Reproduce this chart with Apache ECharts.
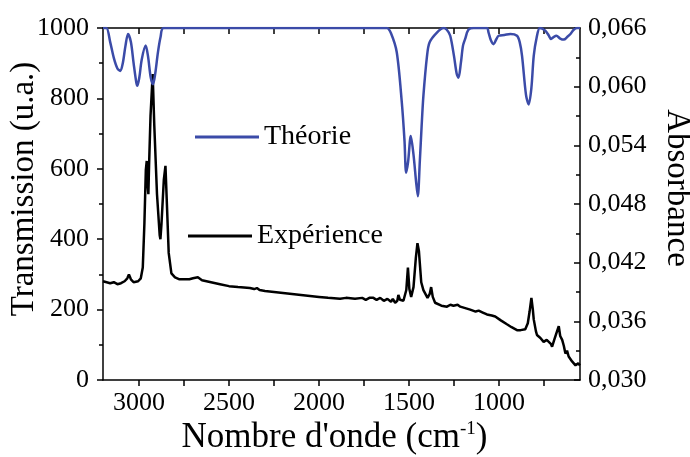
<!DOCTYPE html>
<html>
<head>
<meta charset="utf-8">
<script src="https://cdn.jsdelivr.net/npm/echarts@6/dist/echarts.min.js"></script>
<style>html,body{margin:0;padding:0;background:#fff}#c{width:690px;height:457px}</style>
</head>
<body>
<div id="c"></div>
<script>
// Wavenumber (cm-1) and theoretical transmission (u.a.)
const theoWn = [3200,3181,3160,3140,3120,3104,3090,3075,3061,3045,3030,3015,3009,2998,2985,2963,2950,2935,2922,2910,2895,2880,2863,1640,1623,1600,1568,1540,1525,1516,1505,1490,1475,1460,1451,1440,1430,1420,1400,1386,1345,1308,1290,1271,1250,1235,1225,1212,1200,1188,1170,1141,1067,1058,1045,1030,1015,1002,970,937,900,885,872,850,835,820,807,790,774,760,742,725,711,695,681,660,640,620,603,585,566,550];
const theoT = [1000,1000,960,915,885,878,900,950,983,960,900,845,836,860,910,950,920,860,840,870,930,975,1000,1000,1000,985,931,789,680,589,620,693,640,560,522,620,720,807,920,959,987,1000,995,978,920,870,859,900,950,969,995,1000,1000,987,965,954,968,978,980,983,978,960,921,810,783,830,921,975,1000,998,992,980,969,975,978,970,967,975,983,995,1000,1000];

// Wavenumber (cm-1) and experimental absorbance
const expWn = [3200,3180,3160,3140,3120,3100,3080,3065,3056,3045,3030,3020,3005,2990,2979,2970,2962,2957,2952,2948,2944,2936,2924,2915,2900,2885,2881,2875,2862,2853,2845,2835,2820,2800,2775,2746,2720,2700,2673,2650,2600,2550,2500,2450,2384,2360,2345,2330,2300,2250,2200,2150,2100,2050,2000,1950,1883,1850,1800,1760,1740,1720,1698,1680,1660,1640,1620,1600,1590,1577,1565,1559,1550,1531,1515,1506,1498,1488,1475,1462,1453,1445,1432,1420,1397,1385,1377,1368,1355,1320,1289,1270,1253,1230,1215,1160,1130,1113,1090,1067,1040,1021,990,956,930,900,880,854,840,830,820,812,807,795,789,770,752,735,724,712,705,695,681,668,660,649,640,631,622,613,603,594,585,575,560,550];
const expA = [0.0401,0.0400,0.0399,0.0400,0.0398,0.0399,0.0401,0.0404,0.0408,0.0403,0.0400,0.0399,0.0401,0.0404,0.0415,0.0460,0.0515,0.0524,0.0500,0.0490,0.0520,0.0570,0.0613,0.0560,0.0490,0.0448,0.0444,0.0460,0.0505,0.0519,0.0480,0.0430,0.0409,0.0405,0.0403,0.0403,0.0403,0.0404,0.0405,0.0402,0.0400,0.0398,0.0396,0.0395,0.0394,0.0393,0.0394,0.0392,0.0391,0.0390,0.0389,0.0388,0.0387,0.0386,0.0385,0.0384,0.0383,0.0384,0.0383,0.0384,0.0382,0.0384,0.0384,0.0382,0.0384,0.0381,0.0383,0.0380,0.0383,0.0379,0.0381,0.0387,0.0382,0.0381,0.0392,0.0415,0.0393,0.0385,0.0395,0.0425,0.0440,0.0432,0.0400,0.0392,0.0384,0.0388,0.0395,0.0385,0.0379,0.0376,0.0375,0.0377,0.0376,0.0377,0.0375,0.0372,0.0370,0.0371,0.0369,0.0367,0.0366,0.0365,0.0361,0.0357,0.0354,0.0351,0.0351,0.0352,0.0358,0.0370,0.0384,0.0372,0.0362,0.0350,0.0346,0.0343,0.0339,0.0341,0.0343,0.0337,0.0334,0.0340,0.0348,0.0355,0.0345,0.0341,0.0335,0.0327,0.0330,0.0324,0.0322,0.0319,0.0320,0.0315,0.0317,0.0315];

const xLabels = [3000, 2500, 2000, 1500, 1000];
const xTicks = [3000, 2750, 2500, 2250, 2000, 1750, 1500, 1250, 1000, 750];
const seriesNames = ['Théorie', 'Expérience'];

const FONT = '"Liberation Serif", "Times New Roman", serif';
const zip = (a, b) => a.map((v, i) => [v, b[i]]);

const chart = echarts.init(document.getElementById('c'));
chart.setOption({
  backgroundColor: '#fff',
  animation: false,
  textStyle: { fontFamily: FONT, color: '#000' },
  grid: { left: 103, right: 110, top: 28, bottom: 77, containLabel: false, outerBoundsMode: 'none' },
  legend: [
    { data: [seriesNames[0]], left: 190, top: 118, icon: 'rect', itemWidth: 64, itemHeight: 3,
      textStyle: { fontFamily: FONT, fontSize: 28, color: '#000' } },
    { data: [seriesNames[1]], left: 183, top: 217, icon: 'rect', itemWidth: 64, itemHeight: 3,
      textStyle: { fontFamily: FONT, fontSize: 28, color: '#000' } }
  ],
  xAxis: [
    { type: 'value', inverse: true, min: 550, max: 3200, position: 'bottom',
      name: "Nombre d'onde (cm{sup|-1})", nameLocation: 'middle', nameGap: 40, nameMoveOverlap: false,
      nameTextStyle: { fontFamily: FONT, fontSize: 35, color: '#000', padding: [0, 14, 0, 0],
        rich: { sup: { fontFamily: FONT, fontSize: 19, verticalAlign: 'top', color: '#000' } } },
      axisLine: { lineStyle: { color: '#000', width: 1.5 } },
      axisTick: { inside: false, length: 6, customValues: xTicks, lineStyle: { color: '#000', width: 1.5 } },
      axisLabel: { customValues: xLabels, margin: 10, fontFamily: FONT, fontSize: 26, color: '#000',
        formatter: v => String(v) },
      splitLine: { show: false } },
    { type: 'value', inverse: true, min: 550, max: 3200, position: 'top',
      axisLine: { lineStyle: { color: '#000', width: 1.5 } },
      axisTick: { inside: true, length: 6, customValues: xTicks, lineStyle: { color: '#000', width: 1.5 } },
      axisLabel: { show: false }, splitLine: { show: false } }
  ],
  yAxis: [
    { type: 'value', min: 0, max: 1000, interval: 200, position: 'left',
      name: 'Transmission (u.a.)', nameLocation: 'middle', nameGap: 62, nameMoveOverlap: false,
      nameTextStyle: { fontFamily: FONT, fontSize: 33, color: '#000', padding: [0, 0, 0, 30] },
      axisLine: { show: true, lineStyle: { color: '#000', width: 1.5 } },
      axisTick: { show: true, inside: false, length: 6, lineStyle: { color: '#000', width: 1.5 } },
      minorTick: { show: true, splitNumber: 2, length: 4, lineStyle: { color: '#000', width: 1.5 } },
      axisLabel: { margin: 14, fontFamily: FONT, fontSize: 26, color: '#000', formatter: v => String(v) },
      splitLine: { show: false } },
    { type: 'value', min: 0.030, max: 0.066, interval: 0.006, position: 'right',
      name: 'Absorbance', nameLocation: 'middle', nameGap: 80, nameRotate: -90, nameMoveOverlap: false,
      nameTextStyle: { fontFamily: FONT, fontSize: 33, color: '#000', padding: [0, 32, 0, 0] },
      axisLine: { show: true, lineStyle: { color: '#000', width: 1.5 } },
      axisTick: { show: true, inside: true, length: 6, lineStyle: { color: '#000', width: 1.5 } },
      minorTick: { show: true, splitNumber: 2, length: 4, lineStyle: { color: '#000', width: 1.5 } },
      axisLabel: { margin: 8, fontFamily: FONT, fontSize: 26, color: '#000',
        formatter: v => v.toFixed(3).replace('.', ',') },
      splitLine: { show: false } }
  ],
  series: [
    { name: seriesNames[0], type: 'line', xAxisIndex: 0, yAxisIndex: 0, data: zip(theoWn, theoT),
      showSymbol: false, smooth: 0.3, color: '#3b4ba8', lineStyle: { width: 2.5, color: '#3b4ba8' }, z: 3 },
    { name: seriesNames[1], type: 'line', xAxisIndex: 0, yAxisIndex: 1, data: zip(expWn, expA),
      showSymbol: false, color: '#000', lineStyle: { width: 2.5, color: '#000' }, z: 2 }
  ]
});
</script>
</body>
</html>
